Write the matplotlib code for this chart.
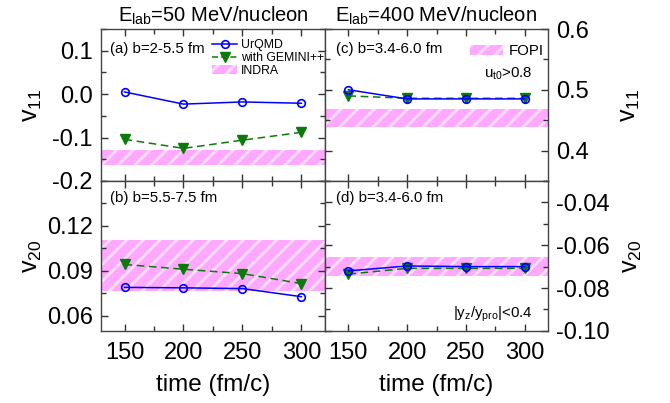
import matplotlib
matplotlib.use("Agg")
import matplotlib.pyplot as plt
from matplotlib.patches import Patch
from matplotlib.lines import Line2D
from matplotlib.ticker import MultipleLocator

plt.rcParams['font.family'] = 'Liberation Sans'
plt.rcParams['mathtext.default'] = 'regular'
plt.rcParams['hatch.linewidth'] = 2.0

# Source data
times = [150, 200, 250, 300]

# (a) 50 MeV/nucleon, v11
a_urqmd = [0.005, -0.023, -0.018, -0.021]
a_gemini = [-0.104, -0.125, -0.106, -0.088]
indra_v11 = [-0.164, -0.128]

# (b) 50 MeV/nucleon, v20
b_urqmd = [0.0790, 0.0787, 0.0782, 0.0728]
b_gemini = [0.0943, 0.0911, 0.0882, 0.0815]
indra_v20 = [0.0766, 0.1106]

# (c) 400 MeV/nucleon, v11
c_urqmd = [0.500, 0.485, 0.485, 0.485]
c_gemini = [0.490, 0.486, 0.486, 0.486]
fopi_v11 = [0.438, 0.468]

# (d) 400 MeV/nucleon, v20
d_urqmd = [-0.0720, -0.0697, -0.0700, -0.0700]
d_gemini = [-0.0735, -0.0708, -0.0708, -0.0708]
fopi_v20 = [-0.0746, -0.0657]

blue = '#0000FF'
green = '#0B7A0B'
pink = '#FFA8FF'
hatch_col = '#FFDDFF'

fig = plt.figure(figsize=(6.7, 4.03), dpi=100)
x0, x1, x2 = 0.1507, 0.485, 0.818
y0, y1, y2 = 0.179, 0.551, 0.928
ax_a = fig.add_axes([x0, y1, x1 - x0, y2 - y1])
ax_b = fig.add_axes([x0, y0, x1 - x0, y1 - y0])
ax_c = fig.add_axes([x1, y1, x2 - x1, y2 - y1])
ax_d = fig.add_axes([x1, y0, x2 - x1, y1 - y0])


def draw(ax, urqmd, gemini, band):
    ax.axhspan(band[0], band[1], facecolor=pink, edgecolor=hatch_col,
               hatch='//', linewidth=0, zorder=1)
    ax.plot(times, gemini, color=green, ls=(0, (5, 3)), lw=1.1, marker='v',
            ms=7.5, mfc=green, mec=green, zorder=3)
    ax.plot(times, urqmd, color=blue, ls='-', lw=1.1, marker='o', ms=5.5,
            mfc='none', mec=blue, mew=1.2, zorder=4)
    ax.set_xlim(130, 320)
    ax.xaxis.set_major_locator(MultipleLocator(50))
    ax.xaxis.set_minor_locator(MultipleLocator(25))
    ax.tick_params(which='both', direction='in', top=True, bottom=True,
                   left=True, right=True, labelsize=17, pad=6, color='#333333')
    ax.tick_params(axis='x', pad=8)
    ax.tick_params(which='major', length=5, width=1)
    ax.tick_params(which='minor', length=3.5, width=1)
    for s in ax.spines.values():
        s.set_color('#444444')
        s.set_linewidth(1.0)


draw(ax_a, a_urqmd, a_gemini, indra_v11)
draw(ax_b, b_urqmd, b_gemini, indra_v20)
draw(ax_c, c_urqmd, c_gemini, fopi_v11)
draw(ax_d, d_urqmd, d_gemini, fopi_v20)

# y ranges and ticks
ax_a.set_ylim(-0.2, 0.15)
ax_a.set_yticks([-0.2, -0.1, 0.0, 0.1])
ax_a.set_yticklabels(['-0.2', '-0.1', '0.0', '0.1'])
ax_a.yaxis.set_minor_locator(MultipleLocator(0.05))

ax_b.set_ylim(0.05, 0.15)
ax_b.set_yticks([0.06, 0.09, 0.12])
ax_b.set_yticklabels(['0.06', '0.09', '0.12'])
ax_b.yaxis.set_minor_locator(MultipleLocator(0.015))

ax_c.set_ylim(0.35, 0.6)
ax_c.set_yticks([0.4, 0.5, 0.6])
ax_c.set_yticklabels(['0.4', '0.5', '0.6'])
ax_c.yaxis.set_minor_locator(MultipleLocator(0.05))

ax_d.set_ylim(-0.1, -0.03)
ax_d.set_yticks([-0.1, -0.08, -0.06, -0.04])
ax_d.set_yticklabels(['-0.10', '-0.08', '-0.06', '-0.04'])
ax_d.yaxis.set_minor_locator(MultipleLocator(0.01))

for ax in (ax_a, ax_c):
    ax.tick_params(labelbottom=False)
for ax in (ax_c, ax_d):
    ax.tick_params(labelleft=False, labelright=True)
    ax.yaxis.set_label_position('right')

ax_a.set_ylabel('v$_{11}$', fontsize=18, labelpad=6)
ax_b.set_ylabel('v$_{20}$', fontsize=18, labelpad=2)
ax_c.set_ylabel('v$_{11}$', fontsize=18, rotation=90, labelpad=21)
ax_d.set_ylabel('v$_{20}$', fontsize=18, rotation=90, labelpad=7)
ax_b.set_xlabel('time (fm/c)', fontsize=17.5, labelpad=7)
ax_d.set_xlabel('time (fm/c)', fontsize=17.5, labelpad=7)

ax_a.set_title('E$_{lab}$=50 MeV/nucleon', fontsize=14.5, pad=5)
ax_c.set_title('E$_{lab}$=400 MeV/nucleon', fontsize=14.5, pad=5)

# panel annotations
fs = 10.8
ax_a.text(0.04, 0.84, '(a) b=2-5.5 fm', transform=ax_a.transAxes, fontsize=fs)
ax_b.text(0.04, 0.86, '(b) b=5.5-7.5 fm', transform=ax_b.transAxes, fontsize=fs)
ax_c.text(0.05, 0.84, '(c) b=3.4-6.0 fm', transform=ax_c.transAxes, fontsize=fs)
ax_d.text(0.05, 0.86, '(d) b=3.4-6.0 fm', transform=ax_d.transAxes, fontsize=fs)
ax_c.text(0.93, 0.68, 'u$_{t0}$>0.8', transform=ax_c.transAxes, fontsize=fs,
          ha='right')
ax_d.text(0.93, 0.09, '|y$_{z}$/y$_{pro}$|<0.4', transform=ax_d.transAxes,
          fontsize=fs, ha='right')

# legends
h_urqmd = Line2D([], [], color=blue, lw=1.1, marker='o', ms=5.5, mfc='none',
                 mec=blue, mew=1.2)
h_gem = Line2D([], [], color=green, lw=1.1, ls=(0, (4, 2)), marker='v', ms=7.5,
               mfc=green, mec=green)
h_indra = Patch(facecolor=pink, edgecolor=hatch_col, hatch='//', linewidth=0)
ax_a.legend([h_urqmd, h_gem, h_indra], ['UrQMD', 'with GEMINI++', 'INDRA'],
            loc='upper right', bbox_to_anchor=(1.03, 0.98), frameon=False,
            fontsize=8.8, handlelength=2.0, handletextpad=0.35,
            labelspacing=0.05, borderaxespad=0.2)

h_fopi = Patch(facecolor=pink, edgecolor=hatch_col, hatch='//', linewidth=0)
ax_c.legend([h_fopi], ['FOPI'], loc='upper right', bbox_to_anchor=(1.02, 0.96),
            frameon=False, fontsize=fs, handlelength=2.2, handletextpad=0.4,
            borderaxespad=0.2)

fig.savefig('out.png', dpi=100)
